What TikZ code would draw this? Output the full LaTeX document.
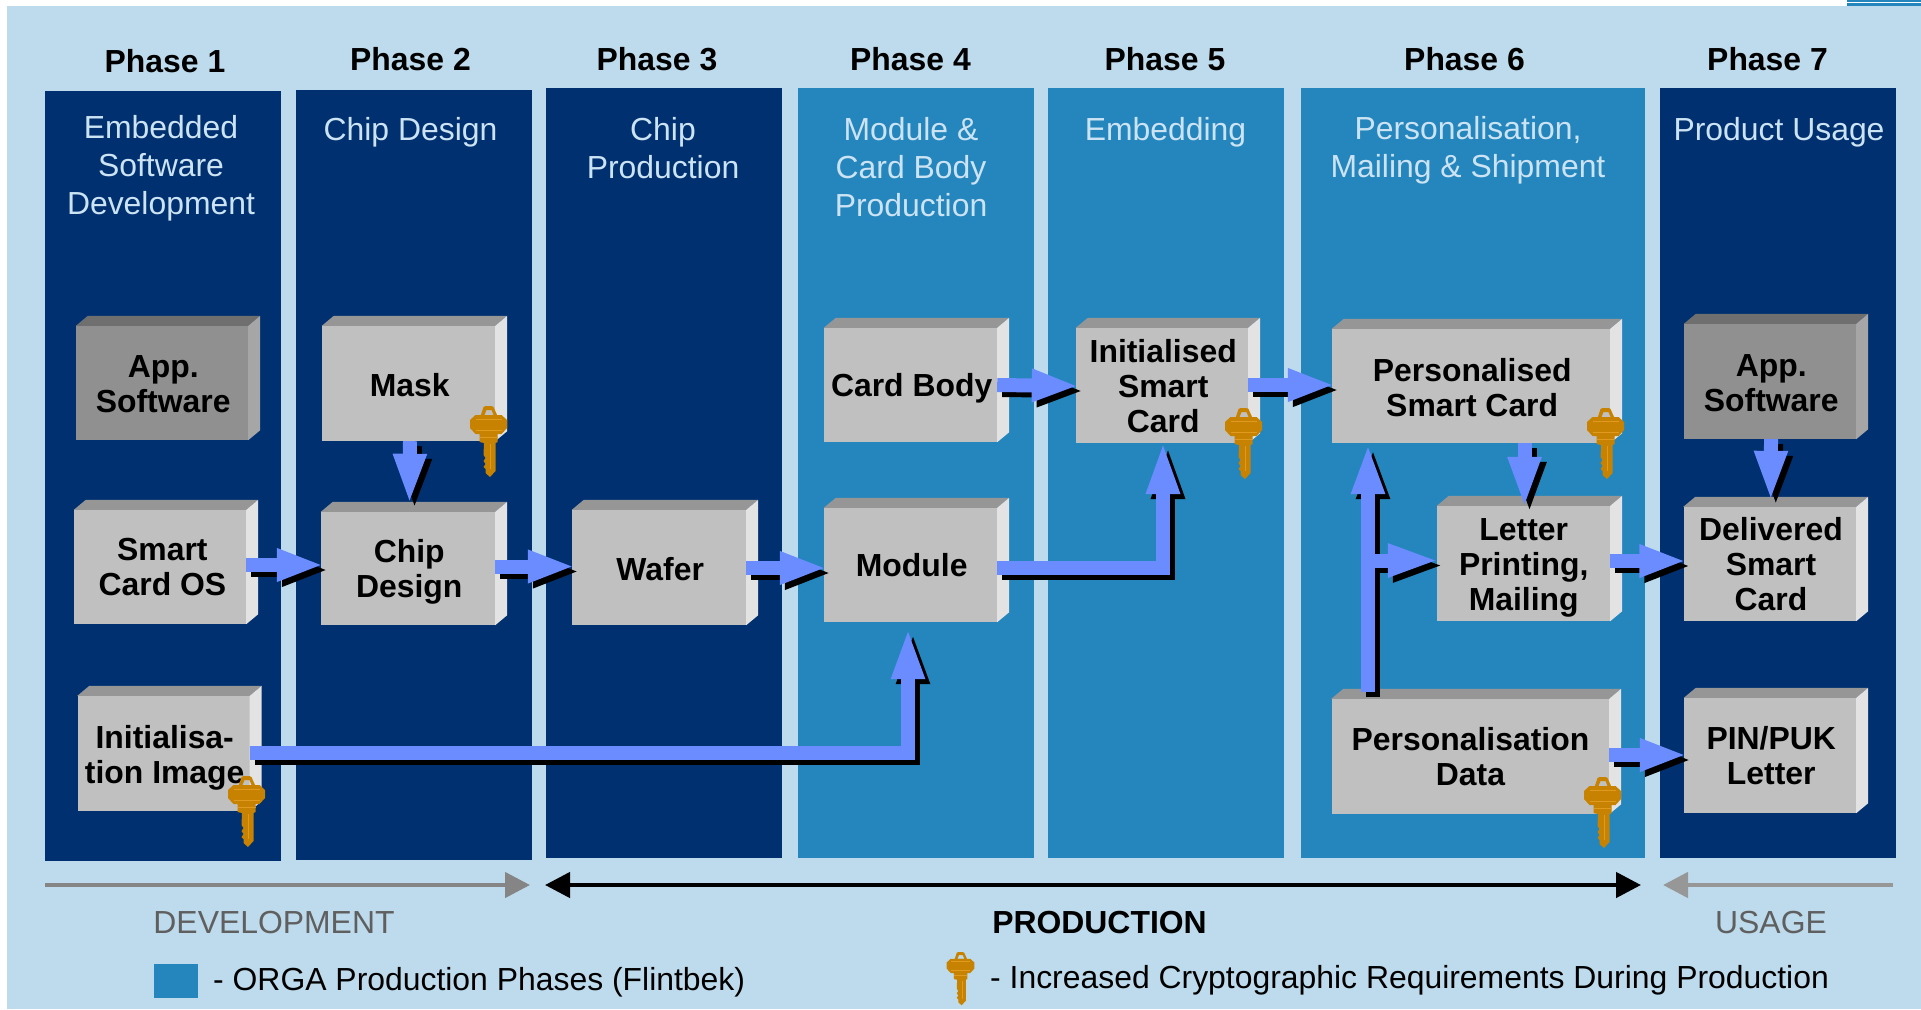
\documentclass[tikz,border=0pt]{standalone}
\usepackage{xcolor}
\usepackage{fontspec}
\setmainfont{Liberation Sans}
\usepackage{tikz}
\usetikzlibrary{calc,arrows.meta}
\definecolor{sky}{HTML}{BDDBEC}
\definecolor{navy}{HTML}{003070}
\definecolor{teal}{HTML}{2586BE}
\definecolor{paneltext}{HTML}{CBE3F2}
\definecolor{flowblue}{HTML}{6B8CFF}
\definecolor{cardfront}{HTML}{C0C0C0}
\definecolor{cardtop}{HTML}{969696}
\definecolor{cardside}{HTML}{E3E3E3}
\definecolor{darkfront}{HTML}{909090}
\definecolor{darktop}{HTML}{6F6F6F}
\definecolor{darkside}{HTML}{A6A6A6}
\definecolor{keygold}{HTML}{C68200}
\definecolor{keyline}{HTML}{E09A20}
\definecolor{spangray}{HTML}{858585}
\definecolor{spanlight}{HTML}{979797}
\definecolor{spantext}{HTML}{5F5F5F}
\newcommand{\txt}{\fontsize{31.9}{35}\selectfont}
\newcommand{\paneltxt}{\fontsize{31.9}{38}\selectfont}
\newcommand{\crate}[7][card]{%
  \node[#1, minimum width=#3pt, minimum height=#4pt, label={[cardlab, name=#2t, #6]center:{#7}}] (#2) at (#5) {};
  \fill[#1top] (#2.north west) -- ++(12,-10) -- ($(#2.north east)+(12,-10)$) -- (#2.north east) -- cycle;
  \fill[#1side] (#2.north east) -- ++(12,-10) -- ($(#2.south east)+(12,-10)$) -- (#2.south east) -- cycle;
}
\newcommand{\flowline}[2][47pt]{%
  \draw[flowshadow=#1] #2;
  \draw[flowtop=#1] #2;
}
\tikzset{
  card/.style={fill=cardfront, inner sep=0pt},
  dark/.style={card, fill=darkfront},
  cardlab/.style={inner sep=0pt, align=center, font=\txt\bfseries, text=black, xshift=1.2pt},
  phase/.style={font=\txt\bfseries, text=black, inner sep=0pt},
  title/.style={font=\paneltxt, text=paneltext, align=center, inner sep=0pt},
  flowtop/.style={draw=flowblue, line width=14pt, shorten >=-3pt, -{Triangle[length=#1,width=30pt]}},
  flowshadow/.style={flowtop=#1, draw=black, transform canvas={shift={(5pt,-5pt)}}},
  span/.style={line width=4.5pt},
  tipr/.style={-{Triangle[length=25pt,width=25pt]}},
  tipb/.style={{Triangle[length=25pt,width=25pt]}-{Triangle[length=25pt,width=25pt]}},
  pics/keyicon/.style={code={
    \fill[keygold, even odd rule] (-8,10) -- (-5,1) -- (-3,0) -- (3,0) -- (5,1) -- (9,10) -- cycle
      (-4,9) -- (-2,4) -- (3,4) -- (5,9) -- cycle;
    \fill[keygold] (-13,9) -- (13,9) -- (18.5,14) -- (18.5,22) -- (13,28) -- (9,28) -- (9,36) -- (7,37)
      -- (7,65) -- (1.5,71) -- (-3,67) -- (-3,63) -- (-5,61) -- (-3,58) -- (-5,55) -- (-3,52) -- (-5,49)
      -- (-4.5,37) -- (-9,36) -- (-9,28) -- (-13,28) -- (-18.5,22) -- (-18.5,14) -- cycle;
    \draw[keyline, line width=0.8pt] (-13,13) -- (13,13) (-13,24) -- (13,24) (-9,31) -- (9,31) (2,38) -- (2,63);
  }}
}
\begin{document}
\begin{tikzpicture}[x=1pt,y=-1pt]
  \useasboundingbox (0,0) rectangle (1921,1009);
  \fill[sky] (7,6) rectangle (1921,1009);
  \fill[teal] (1847,0) rectangle (1921,2);
  \fill[teal] (1847,3) rectangle (1921,6);
  \foreach \xa/\ya/\xb/\yb/\col in {45/91/281/861/navy,296/90/532/860/navy,546/88/782/858/navy,
    798/88/1034/858/teal,1048/88/1284/858/teal,1301/88/1645/858/teal,1660/88/1896/858/navy}
    \fill[\col] (\xa,\ya) rectangle (\xb,\yb);

  \node[phase] (ph1) at (165,61) {Phase 1};
  \node[phase] (ph2) at (410.5,59) {Phase 2};
  \node[phase] (ph3) at (657,59) {Phase 3};
  \node[phase] (ph4) at (910.5,59) {Phase 4};
  \node[phase] (ph5) at (1165,59) {Phase 5};
  \node[phase] (ph6) at (1464.5,59) {Phase 6};
  \node[phase] (ph7) at (1767.5,59) {Phase 7};

  \node[title] (ti1) at (161,168.5) {Embedded\\Software\\Development};
  \node[title] (ti2) at (410.5,132.5) {Chip Design};
  \node[title] (ti3) at (663,148) {Chip\\Production};
  \node[title] (ti4) at (911,167) {Module \&\\Card Body\\Production};
  \node[title] (ti5) at (1165.5,132.5) {Embedding};
  \node[title] (ti6) at (1468,150.5) {Personalisation,\\Mailing \& Shipment};
  \node[title] (ti7) at (1779,132.5) {Product Usage};

  \crate[dark]{app}{172}{114}{162,383}{yshift=-1.5pt}{App.\\Software}
  \crate{os}{172}{114}{160,567}{xshift=1.2pt}{Smart\\Card OS}
  \crate{img}{172}{115}{163.5,753.5}{yshift=-4pt}{Initialisa-\\tion Image}
  \crate{mask}{173}{115}{408.5,383.5}{yshift=-1.2pt}{Mask}
  \crate{chip}{174}{113}{408,568.5}{yshift=-3.5pt}{Chip\\Design}
  \crate{wafer}{174}{115}{659,567.5}{yshift=-1.5pt}{Wafer}
  \crate{cbody}{173}{114}{910.5,385}{yshift=-3pt}{Card Body}
  \crate{module}{173}{114}{910.5,565}{}{Module}
  \crate{isc}{172}{115}{1162,385.5}{yshift=-1pt}{Initialised\\Smart\\Card}
  \crate{psc}{278}{114}{1471,386}{yshift=-1.5pt}{Personalised\\Smart Card}
  \crate{letter}{173}{115}{1523.5,563.5}{yshift=-4.5pt,xshift=-1pt}{Letter\\Printing,\\Mailing}
  \crate{pdata}{277.5}{115}{1470.25,756.5}{xshift=-1pt}{Personalisation\\Data}
  \crate[dark]{app2}{172}{115}{1770,381.5}{yshift=-1.2pt}{App.\\Software}
  \crate{dsc}{172.5}{114}{1769.75,564}{}{Delivered\\Smart\\Card}
  \crate{pin}{172}{115}{1770,755.5}{}{PIN/PUK\\Letter}

  \flowline{([yshift=2pt]os.east) -- ([yshift=3.5pt]chip.west)}
  \flowline{([yshift=2pt]chip.east) -- ([yshift=1pt]wafer.west)}
  \flowline{([yshift=-0.5pt]wafer.east) -- ([yshift=-3pt]module.west)}
  \flowline{(cbody.east) -- ([yshift=-0.5pt]isc.west)}
  \flowline{([yshift=0.5pt]isc.east) -- ([yshift=1pt]psc.west)}
  \flowline{([yshift=2.5pt]letter.east) -- ([yshift=3pt]dsc.west)}
  \flowline{([yshift=1.5pt]pdata.east) -- ([yshift=0.5pt]pin.west)}
  \flowline[51pt]{([xshift=1.5pt]mask.south) -- ([xshift=1.5pt,yshift=10pt]chip.north)}
  \flowline[52pt]{([xshift=1pt]psc.south -| letter.south) -- ([xshift=1pt]letter.north)}
  \flowline[51pt]{([xshift=1pt]app2.south) -- ([xshift=1pt,yshift=8pt]dsc.north)}
  \flowline[54pt]{([yshift=-3pt]module.east) -| ([xshift=1pt]isc.south)}
  \flowline[52pt]{([yshift=1pt]img.east) -| ([xshift=-2.5pt,yshift=-8pt]module.south)}
  \coordinate (trunkb) at (1368,692);
  \coordinate (trunkt) at (1368,446);
  \coordinate (branch) at (1375,560.5);
  \flowline[51pt]{(trunkb) -- (trunkt)}
  \flowline[52pt]{(branch) -- (branch -| letter.west)}

  \pic at (488.5,406) {keyicon};
  \pic at (246.5,776) {keyicon};
  \pic at (1243.5,408) {keyicon};
  \pic at (1605.5,408) {keyicon};
  \pic at (1602.5,777) {keyicon};
  \pic[scale=0.75] at (960.5,952) {keyicon};

  \coordinate (devl) at (45,885);
  \coordinate (devr) at (530,885);
  \coordinate (prodl) at (545,885);
  \coordinate (prodr) at (1641,885);
  \coordinate (usel) at (1663,885);
  \coordinate (user) at (1893,885);
  \draw[span, tipr, draw=spangray] (devl) -- (devr);
  \draw[span, tipb, draw=black] (prodl) -- (prodr);
  \draw[span, tipr, draw=spanlight] (user) -- (usel);

  \node[font=\txt, text=spantext, inner sep=0pt] (devt) at (274,922.5) {DEVELOPMENT};
  \node[font=\txt\bfseries, text=black, inner sep=0pt] (prodt) at (1099.5,923) {PRODUCTION};
  \node[font=\txt, text=spantext, inner sep=0pt] (uset) at (1771,923) {USAGE};

  \fill[teal] (154,964) rectangle (198,998);
  \node[font=\txt, text=black, inner sep=0pt, anchor=west] (legl) at (213,982) {- ORGA Production Phases (Flintbek)};
  \node[font=\txt, text=black, inner sep=0pt, anchor=west] (legr) at (990,980) {- Increased Cryptographic Requirements During Production};
\end{tikzpicture}
\end{document}
